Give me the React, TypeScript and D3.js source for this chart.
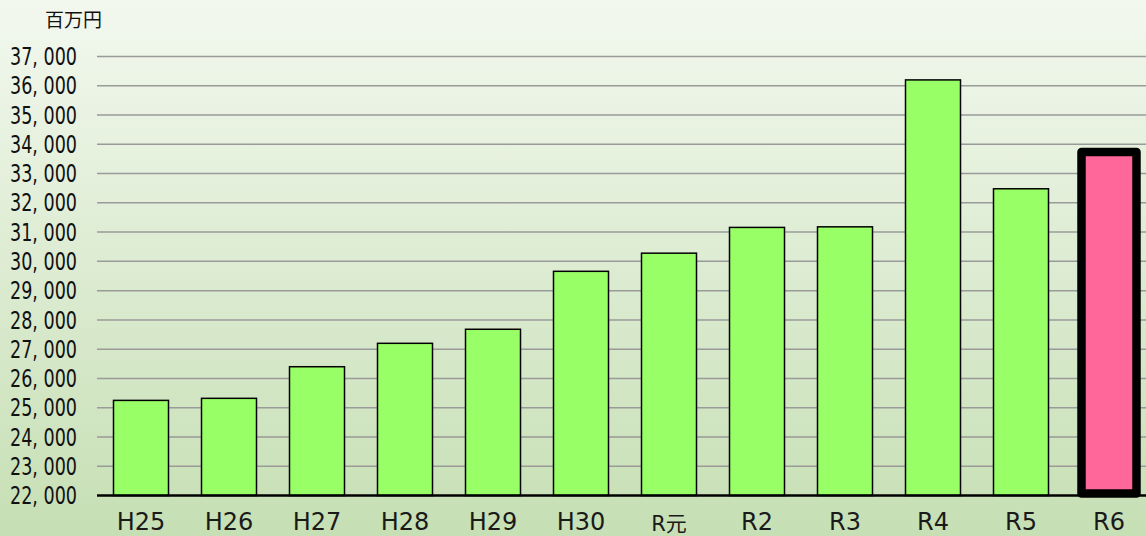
import { useEffect, useRef } from "react";
import * as d3 from "d3";

const categories = ["H25", "H26", "H27", "H28", "H29", "H30", "R元", "R2", "R3", "R4", "R5", "R6"];
const values = [25250, 25320, 26400, 27200, 27680, 29660, 30280, 31160, 31180, 36200, 32480, 33740];
const highlight = "R6";
const yTicks = [22000, 23000, 24000, 25000, 26000, 27000, 28000, 29000, 30000, 31000, 32000, 33000, 34000, 35000, 36000, 37000];
const unitLabel = "百万円";

const WIDTH = 1146;
const HEIGHT = 536;
const PLOT = { left: 97, right: 1153, top: 56.5, bottom: 495.5 };

export default function App() {
  const svgRef = useRef<SVGSVGElement>(null);

  useEffect(() => {
    document.body.style.margin = "0";
    if (!svgRef.current) return;
    const svg = d3.select(svgRef.current);
    svg.selectAll("*").remove();

    // background gradient
    const defs = svg.append("defs");
    const grad = defs
      .append("linearGradient")
      .attr("id", "bg")
      .attr("x1", 0)
      .attr("y1", 0)
      .attr("x2", 0)
      .attr("y2", 1);
    grad.append("stop").attr("offset", "0%").attr("stop-color", "#f3f8ef");
    grad.append("stop").attr("offset", "100%").attr("stop-color", "#c6dfb4");
    svg
      .append("rect")
      .attr("width", WIDTH)
      .attr("height", HEIGHT)
      .attr("fill", "url(#bg)");

    const x = d3
      .scaleBand<string>()
      .domain(categories)
      .range([PLOT.left, PLOT.right])
      .paddingInner(0.375)
      .paddingOuter(0.1875);

    const y = d3
      .scaleLinear()
      .domain([22000, 37000])
      .range([PLOT.bottom, PLOT.top]);

    // grid lines
    svg
      .append("g")
      .selectAll("line")
      .data(yTicks.slice(1))
      .join("line")
      .attr("x1", PLOT.left)
      .attr("x2", WIDTH)
      .attr("y1", (d) => y(d))
      .attr("y2", (d) => y(d))
      .attr("stroke", "#9a9a9a")
      .attr("stroke-width", 1.5);

    // y labels
    const fmt = d3.format(",");
    svg
      .append("g")
      .selectAll("text")
      .data(yTicks)
      .join("text")
      .attr("x", 77)
      .attr("y", (d) => y(d))
      .attr("dy", "0.36em")
      .attr("text-anchor", "end")
      .attr("font-family", "'DejaVu Sans', sans-serif")
      .attr("font-size", 24)
      .attr("textLength", 67)
      .attr("lengthAdjust", "spacingAndGlyphs")
      .attr("fill", "#111")
      .text((d) => fmt(d).replace(",", ", "));

    // unit label
    svg
      .append("text")
      .attr("x", 45)
      .attr("y", 27)
      .attr("font-family", "'Noto Sans CJK JP', sans-serif")
      .attr("font-size", 19)
      .attr("fill", "#111")
      .text(unitLabel);

    // bars
    const data = categories.map((c, i) => ({ cat: c, value: values[i] }));
    svg
      .append("g")
      .selectAll("rect")
      .data(data.filter((d) => d.cat !== highlight))
      .join("rect")
      .attr("x", (d) => x(d.cat)!)
      .attr("y", (d) => y(d.value))
      .attr("width", x.bandwidth())
      .attr("height", (d) => y(22000) - y(d.value))
      .attr("fill", "#99ff66")
      .attr("stroke", "#000")
      .attr("stroke-width", 1.5);

    // baseline
    svg
      .append("line")
      .attr("x1", PLOT.left)
      .attr("x2", WIDTH)
      .attr("y1", y(22000))
      .attr("y2", y(22000))
      .attr("stroke", "#000")
      .attr("stroke-width", 2.5);

    // highlighted bar
    svg
      .append("g")
      .selectAll("rect")
      .data(data.filter((d) => d.cat === highlight))
      .join("rect")
      .attr("x", (d) => x(d.cat)!)
      .attr("y", (d) => y(d.value))
      .attr("width", x.bandwidth())
      .attr("height", (d) => y(22000) - y(d.value) - 2)
      .attr("fill", "#ff6699")
      .attr("stroke", "#000")
      .attr("stroke-width", 8.5)
      .attr("stroke-linejoin", "round");

    // x labels
    svg
      .append("g")
      .selectAll("text")
      .data(categories)
      .join("text")
      .attr("x", (d) => x(d)! + x.bandwidth() / 2)
      .attr("y", (d) => (d === "R元" ? 531 : 529.5))
      .attr("text-anchor", "middle")
      .attr("font-family", "'DejaVu Sans', 'Noto Sans CJK JP', sans-serif")
      .attr("font-size", (d) => (d === "R元" ? 21 : 24))
      .attr("fill", "#1a1a1a")
      .text((d) => d);
  }, []);

  return (
    <svg
      ref={svgRef}
      width={WIDTH}
      height={HEIGHT}
      style={{ display: "block", position: "absolute", left: 0, top: 0 }}
    />
  );
}
